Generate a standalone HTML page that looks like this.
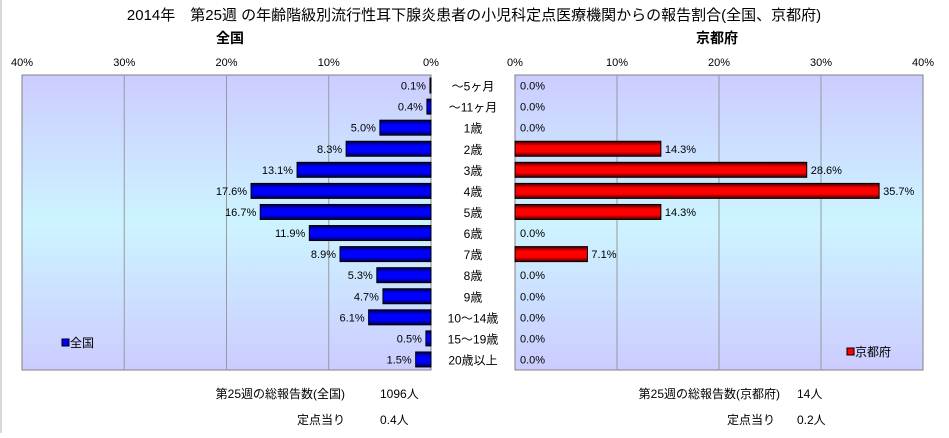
<!DOCTYPE html>
<html><head><meta charset="utf-8"><style>
body{margin:0;background:#fff;}
svg text{font-family:"Liberation Sans","Noto Sans CJK JP",sans-serif;}
</style></head><body>
<svg width="949" height="433" viewBox="0 0 949 433" xmlns="http://www.w3.org/2000/svg">
<defs>
<linearGradient id="bgL" x1="0" y1="0" x2="0" y2="1">
<stop offset="0" stop-color="#ccccff"/><stop offset="0.5" stop-color="#ccf4ff"/><stop offset="1" stop-color="#ccccff"/>
</linearGradient>
<linearGradient id="blueG" x1="0" y1="0" x2="0" y2="1">
<stop offset="0" stop-color="#000040"/><stop offset="0.3" stop-color="#0000ff"/><stop offset="0.7" stop-color="#0000ff"/><stop offset="1" stop-color="#000040"/>
</linearGradient>
<linearGradient id="redG" x1="0" y1="0" x2="0" y2="1">
<stop offset="0" stop-color="#400000"/><stop offset="0.3" stop-color="#ff0000"/><stop offset="0.7" stop-color="#ff0000"/><stop offset="1" stop-color="#400000"/>
</linearGradient>
</defs>
<rect x="0" y="0" width="2" height="433" fill="#d8d8d8"/>
<text x="474" y="20" font-size="15" text-anchor="middle">2014年　第25週 の年齢階級別流行性耳下腺炎患者の小児科定点医療機関からの報告割合(全国、京都府)</text>
<text x="230" y="43" font-size="14" font-weight="bold" text-anchor="middle">全国</text>
<text x="717" y="43" font-size="14" font-weight="bold" text-anchor="middle">京都府</text>
<rect x="22" y="75" width="409" height="295" fill="url(#bgL)" stroke="#808080"/>
<rect x="515" y="75" width="408" height="295" fill="url(#bgL)" stroke="#808080"/>
<g id="g"></g>
<text x="345" y="398" font-size="12" text-anchor="end">第25週の総報告数(全国)</text>
<text x="380" y="398" font-size="12">1096人</text>
<text x="345" y="424" font-size="12" text-anchor="end">定点当り</text>
<text x="380" y="424" font-size="12">0.4人</text>
<text x="780" y="398" font-size="12" text-anchor="end">第25週の総報告数(京都府)</text>
<text x="797" y="398" font-size="12">14人</text>
<text x="775" y="424" font-size="12" text-anchor="end">定点当り</text>
<text x="797" y="424" font-size="12">0.2人</text>
<rect x="62" y="339" width="7" height="7" fill="#0000ff" stroke="#000"/>
<text x="70" y="347" font-size="12">全国</text>
<rect x="847" y="348" width="7" height="7" fill="#ff0000" stroke="#000"/>
<text x="855" y="356" font-size="12">京都府</text>
</svg>
<script>
const categories=["～5ヶ月","～11ヶ月","1歳","2歳","3歳","4歳","5歳","6歳","7歳","8歳","9歳","10～14歳","15～19歳","20歳以上"];
const nationalValues=[0.1,0.4,5.0,8.3,13.1,17.6,16.7,11.9,8.9,5.3,4.7,6.1,0.5,1.5];
const kyotoValues=[0.0,0.0,0.0,14.3,28.6,35.7,14.3,0.0,7.1,0.0,0.0,0.0,0.0,0.0];
const tickValues=[0,10,20,30,40];
const NS="http://www.w3.org/2000/svg";
const g=document.getElementById('g');
const top0=75,plotH=295,rowH=plotH/categories.length,barH=15;
const lx=v=>431-v*409/40;
const rx=v=>515+v*408/40;
const yc=i=>top0+rowH*(i+0.5);
function mk(tag,attrs){const e=document.createElementNS(NS,tag);for(const k in attrs)e.setAttribute(k,attrs[k]);g.appendChild(e);return e;}
tickValues.forEach(t=>{
  if(t>0&&t<40){
    let l=mk('line',{x1:lx(t),x2:lx(t),y1:75,y2:370,stroke:'#999'});
    
    
    let r=mk('line',{x1:rx(t),x2:rx(t),y1:75,y2:370,stroke:'#999'});
    
    
  }
  let a=mk('text',{x:lx(t),y:66,'font-size':11,'text-anchor':'middle'});a.textContent=t+'%';
  
  
  let b=mk('text',{x:rx(t),y:66,'font-size':11,'text-anchor':'middle'});b.textContent=t+'%';
  
  
});
categories.forEach((c,i)=>{
  const y=yc(i);
  let t=mk('text',{x:473,y:y+5,'font-size':12,'text-anchor':'middle'});t.textContent=c;
  
  
  const v=nationalValues[i];
  let b=mk('rect',{x:lx(v),y:y-barH/2,width:Math.max(431-lx(v),1),height:barH,fill:'url(#blueG)',stroke:'#000','stroke-width':1});
  
  
  let vl=mk('text',{x:lx(v)-4,y:y+4,'font-size':11,'text-anchor':'end'});vl.textContent=v.toFixed(1)+'%';
  
  
  const k=kyotoValues[i];
  if(k>0){
    let kb=mk('rect',{x:515,y:y-barH/2,width:rx(k)-515,height:barH,fill:'url(#redG)',stroke:'#000','stroke-width':1});
    
    
  }
  let kl=mk('text',{x:(k>0?rx(k)+4:520),y:y+4,'font-size':11});kl.textContent=k.toFixed(1)+'%';
  
  
});
</script>
</body></html>
